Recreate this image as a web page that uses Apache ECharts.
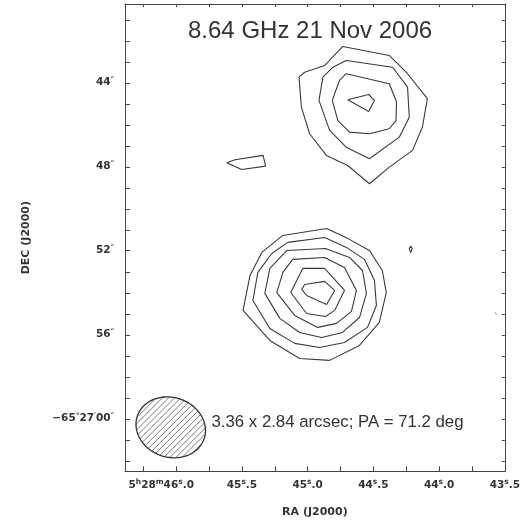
<!DOCTYPE html>
<html><head><meta charset="utf-8">
<script src="https://cdn.jsdelivr.net/npm/echarts@6/dist/echarts.min.js"></script>
<style>html,body{margin:0;padding:0;background:#fff}#c{width:523px;height:526px}</style>
</head><body><div id="c"></div>
<script>
// RA: seconds of time after 5h28m ; DEC: arcsec south of -65d26m (60 = -65d27m00s)
const raTickValues = [43.5,43.75,44.0,44.25,44.5,44.75,45.0,45.25,45.5,45.75,46.0,46.25];
const raLabelValues = [46.0,45.5,45.0,44.5,44.0,43.5];
const raLabelTexts = ['5^h28^m46^s.0','45^s.5','45^s.0','44^s.5','44^s.0','43^s.5'];
const decTickValues = [41,42,43,44,45,46,47,48,49,50,51,52,53,54,55,56,57,58,59,60,61,62];
const decLabelValues = [44,48,52,56,60];
const decLabelTexts = ['44^″','48^″','52^″','56^″','−65^°27^′00^″'];

const northC1 = [[44.733,42.27],[44.379,42.70],[44.240,43.57],[44.089,44.76],[44.127,46.11],[44.202,47.22],[44.379,48.02],[44.530,48.81],[44.695,47.94],[44.858,47.46],[44.985,46.43],[45.048,45.16],[45.066,43.73],[45.023,43.50],[44.871,43.18]];
const northC2 = [[44.707,42.94],[44.354,43.26],[44.240,44.21],[44.227,45.64],[44.303,46.59],[44.530,47.62],[44.707,47.07],[44.833,46.27],[44.914,44.84],[44.884,43.73],[44.808,43.26]];
const northC3 = [[44.707,43.57],[44.379,44.05],[44.324,44.92],[44.328,45.80],[44.379,46.19],[44.530,46.43],[44.682,46.35],[44.770,45.80],[44.813,44.84],[44.758,43.89]];
const northC4 = [[44.695,44.81],[44.536,44.56],[44.492,44.84],[44.536,45.37]];
const westBlob = [[45.616,47.81],[45.553,47.67],[45.339,47.46],[45.320,47.97],[45.502,48.13]];
const eastSpot = [[44.216,51.77],[44.205,51.91],[44.216,52.08],[44.227,51.91]];
const southC1 = [[45.189,51.27],[44.856,50.94],[44.697,51.41],[44.530,51.99],[44.432,52.94],[44.402,53.99],[44.455,55.41],[44.606,56.51],[44.833,57.22],[45.061,57.13],[45.288,56.27],[45.492,54.84],[45.439,53.18],[45.349,52.08]];
const southC2 = [[45.152,51.60],[44.871,51.37],[44.705,51.84],[44.568,52.41],[44.492,53.41],[44.477,54.61],[44.545,55.65],[44.720,56.37],[44.909,56.61],[45.099,56.41],[45.288,55.70],[45.417,54.37],[45.379,53.03],[45.273,52.13]];
const southC3 = [[45.159,51.99],[44.864,51.89],[44.682,52.32],[44.583,52.94],[44.553,54.03],[44.606,55.18],[44.735,55.89],[44.894,56.13],[45.061,55.89],[45.212,55.22],[45.326,54.03],[45.288,52.84]];
const southC4 = [[45.114,52.41],[44.871,52.32],[44.720,52.80],[44.629,53.89],[44.667,54.89],[44.780,55.46],[44.924,55.65],[45.099,55.08],[45.235,53.99],[45.189,53.03]];
const southC5 = [[45.038,52.84],[44.871,52.84],[44.720,53.89],[44.795,54.84],[44.864,55.13],[45.008,54.99],[45.129,53.99]];
const southC6 = [[45.023,53.61],[44.871,53.46],[44.795,53.89],[44.856,54.56],[45.008,54.13],[45.045,53.84]];
const speck = [[43.576,54.94],[43.561,55.03]];
// beam: center RA, center DEC, major ("), minor ("), PA (deg)
const beam = [46.042, 60.41, 3.36, 2.84, 71.2];
const titleText = '8.64 GHz 21 Nov 2006';
const beamText = '3.36 x 2.84 arcsec; PA = 71.2 deg';

const closedContours = [northC1,northC2,northC3,northC4,westBlob,eastSpot,southC1,southC2,southC3,southC4,southC5,southC6];

function toRich(s){
  let out='', buf='';
  for(let i=0;i<s.length;i++){
    if(s[i]==='^'){ if(buf){out+='{n|'+buf+'}';buf='';} out+='{s|'+s[i+1]+'}'; i++; }
    else buf+=s[i];
  }
  if(buf) out+='{n|'+buf+'}';
  return out;
}
function lookup(vals, texts, v, padFirst){
  for(let i=0;i<vals.length;i++) if(Math.abs(vals[i]-v)<1e-6){
    let r = toRich(texts[i]);
    if(padFirst && i===0) r += '{p| }';
    return r;
  }
  return '';
}
const labelRich = {
  n:{fontFamily:'DejaVu Sans',fontWeight:'bold',fontSize:10.5,color:'#333',lineHeight:14},
  s:{fontFamily:'DejaVu Sans',fontWeight:'bold',fontSize:7.5,color:'#333',verticalAlign:'top',lineHeight:14,padding:[0,0,5,0]},
  p:{width:30,fontSize:10.5,lineHeight:14}
};
const lineCol = '#3a3a3a';
const axisLineStyle = {lineStyle:{color:'#444',width:1}};

const series = closedContours.map(c => ({
  type:'line', data:c.concat([c[0]]), symbol:'none', smooth:false, silent:true,
  lineStyle:{color:lineCol,width:1.1}, xAxisIndex:0, yAxisIndex:0, animation:false, z:3
}));
series.push({type:'line', data:speck, symbol:'none', lineStyle:{color:'#777',width:1}, animation:false});
series.push({
  type:'custom', data:[beam], animation:false, silent:true, z:4,
  renderItem:function(params, api){
    const c = api.coord([api.value(0), api.value(1)]);
    const k = Math.abs(api.size([0,1])[1]);
    const a = api.value(2)/2*k, b = api.value(3)/2*k, pa = api.value(4)*Math.PI/180;
    const u = [-Math.sin(pa), -Math.cos(pa)], v = [Math.cos(pa), -Math.sin(pa)];
    const pts = [];
    for(let i=0;i<=96;i++){
      const t = i/96*2*Math.PI;
      pts.push([c[0]+a*Math.cos(t)*u[0]+b*Math.sin(t)*v[0], c[1]+a*Math.cos(t)*u[1]+b*Math.sin(t)*v[1]]);
    }
    const children = [];
    const d = [Math.SQRT1_2, -Math.SQRT1_2], n = [Math.SQRT1_2, Math.SQRT1_2];
    const du = d[0]*u[0]+d[1]*u[1], dv = d[0]*v[0]+d[1]*v[1];
    const nu = n[0]*u[0]+n[1]*u[1], nv = n[0]*v[0]+n[1]*v[1];
    const sp = 4.3;
    for(let q=-a; q<=a; q+=sp){
      const A = (du/a)*(du/a)+(dv/b)*(dv/b);
      const B = 2*((q*nu)*du/(a*a)+(q*nv)*dv/(b*b));
      const C = (q*nu/a)*(q*nu/a)+(q*nv/b)*(q*nv/b)-1;
      const disc = B*B-4*A*C;
      if(disc<=0) continue;
      const t1 = (-B-Math.sqrt(disc))/(2*A), t2 = (-B+Math.sqrt(disc))/(2*A);
      const p0 = [c[0]+q*n[0], c[1]+q*n[1]];
      children.push({type:'line', shape:{x1:p0[0]+t1*d[0], y1:p0[1]+t1*d[1], x2:p0[0]+t2*d[0], y2:p0[1]+t2*d[1]},
        style:{stroke:'#555', lineWidth:0.8}});
    }
    children.push({type:'polygon', shape:{points:pts}, style:{fill:'none', stroke:'#333', lineWidth:1.3}});
    return {type:'group', children};
  }
});

const chart = echarts.init(document.getElementById('c'), null, {renderer:'canvas'});
chart.setOption({
  animation:false,
  backgroundColor:'#fff',
  grid:{left:125, top:4, width:381, height:467.25},
  xAxis:[
    {type:'value', position:'bottom', min:43.5, max:46.39, inverse:true, splitLine:{show:false},
     axisLine:axisLineStyle,
     axisTick:{inside:true, length:5, customValues:raTickValues, lineStyle:{color:'#444'}},
     axisLabel:{customValues:raLabelValues, margin:7, formatter:v=>lookup(raLabelValues,raLabelTexts,v,true), rich:labelRich},
     name:'RA (J2000)', nameLocation:'middle', nameGap:35,
     nameTextStyle:{fontFamily:'DejaVu Sans', fontWeight:'bold', fontSize:11, color:'#333'}},
    {type:'value', position:'top', min:43.5, max:46.39, inverse:true, splitLine:{show:false},
     axisLine:axisLineStyle, axisLabel:{show:false},
     axisTick:{inside:true, length:3, customValues:raTickValues, lineStyle:{color:'#444'}}}
  ],
  yAxis:[
    {type:'value', position:'left', min:40.25, max:62.5, inverse:true, splitLine:{show:false},
     axisLine:axisLineStyle,
     axisTick:{inside:true, length:5, customValues:decTickValues, lineStyle:{color:'#444'}},
     axisLabel:{customValues:decLabelValues, margin:11, formatter:v=>lookup(decLabelValues,decLabelTexts,v,false), rich:labelRich},
     name:'DEC (J2000)', nameLocation:'middle', nameGap:93, nameRotate:90,
     nameTextStyle:{fontFamily:'DejaVu Sans', fontWeight:'bold', fontSize:11, color:'#333'}},
    {type:'value', position:'right', min:40.25, max:62.5, inverse:true, splitLine:{show:false},
     axisLine:axisLineStyle, axisLabel:{show:false},
     axisTick:{inside:true, length:3, customValues:decTickValues, lineStyle:{color:'#444'}}}
  ],
  graphic:[
    {type:'text', x:188, y:31, style:{text:titleText, font:'24px "Liberation Sans", Arial, sans-serif', fill:'#333', textAlign:'left', textVerticalAlign:'middle'}},
    {type:'text', x:211.5, y:422.5, style:{text:beamText, font:'16.8px "Liberation Sans", Arial, sans-serif', fill:'#333', textAlign:'left', textVerticalAlign:'middle'}}
  ],
  series:series
});
</script></body></html>
